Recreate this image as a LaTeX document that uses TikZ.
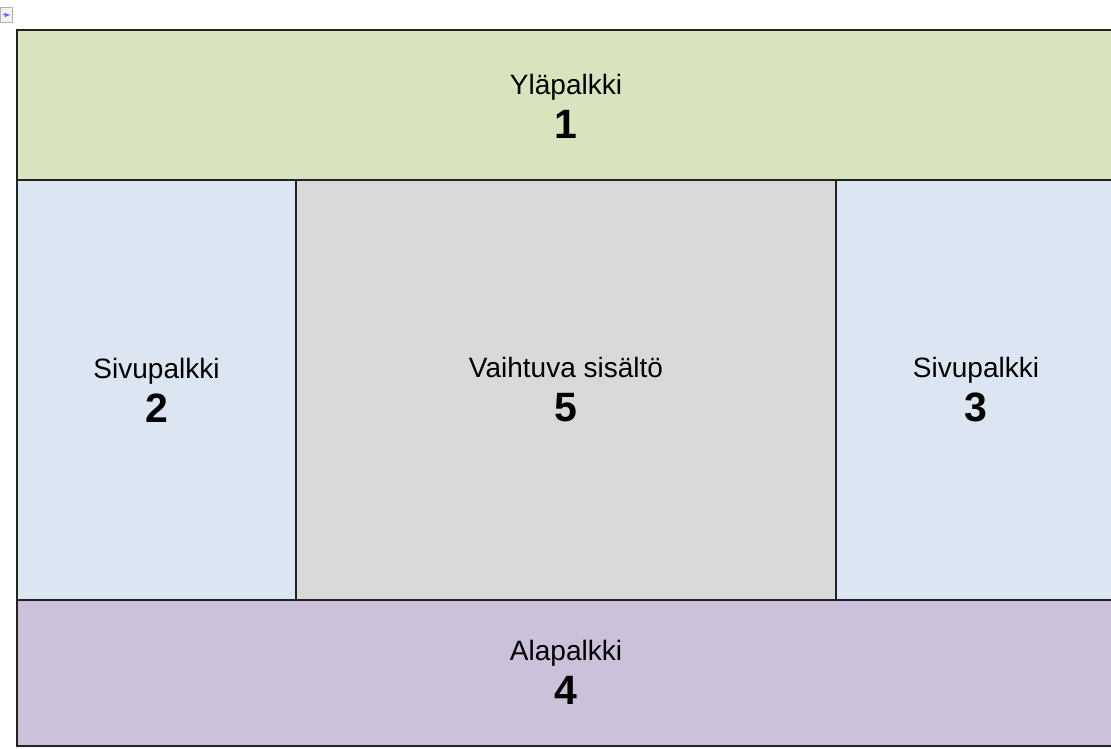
\documentclass[tikz,border=0pt]{standalone}
\usepackage{fontspec}
\setmainfont{Liberation Sans}
\definecolor{cgreen}{HTML}{D7E4BD}
\definecolor{cblue}{HTML}{DCE6F2}
\definecolor{cgray}{HTML}{D9D9D9}
\definecolor{cpurple}{HTML}{CCC1DA}
\definecolor{cline}{HTML}{222222}
\tikzset{
  panel/.style={draw=cline, line width=1.5pt},
  lbl/.style={align=center, inner sep=0pt, font=\fontsize{28}{44}\selectfont},
}
\newcommand{\numtxt}[1]{{\fontsize{41}{44}\selectfont\bfseries #1}}
\begin{document}
\begin{tikzpicture}[x=1pt,y=-1pt]
\useasboundingbox (0,0) rectangle (1111,749);
\begin{scope}
\clip (0,0) rectangle (1111,749);
% icon
\draw[draw=gray!60, fill=gray!10] (0.5,7) rectangle (12,22);
\draw[blue!60, line width=1pt, -latex] (3,15) -- (10.5,15);
% panels
\path[panel, fill=cgreen] (17,30) rectangle (1116,180);
\path[panel, fill=cblue] (17,180) rectangle (296,600);
\path[panel, fill=cgray] (296,180) rectangle (836,600);
\path[panel, fill=cblue] (836,180) rectangle (1116,600);
\path[panel, fill=cpurple] (17,600) rectangle (1116,746);
\end{scope}
\node[lbl] (t1) at (566,106) {Yläpalkki\\ \numtxt{1}};
\node[lbl] (t2) at (156.5,390) {Sivupalkki\\ \numtxt{2}};
\node[lbl] (t5) at (566,390) {Vaihtuva sisältö\\ \numtxt{5}};
\node[lbl] (t3) at (976,390) {Sivupalkki\\ \numtxt{3}};
\node[lbl] (t4) at (566,672) {Alapalkki\\ \numtxt{4}};
\end{tikzpicture}
\end{document}
